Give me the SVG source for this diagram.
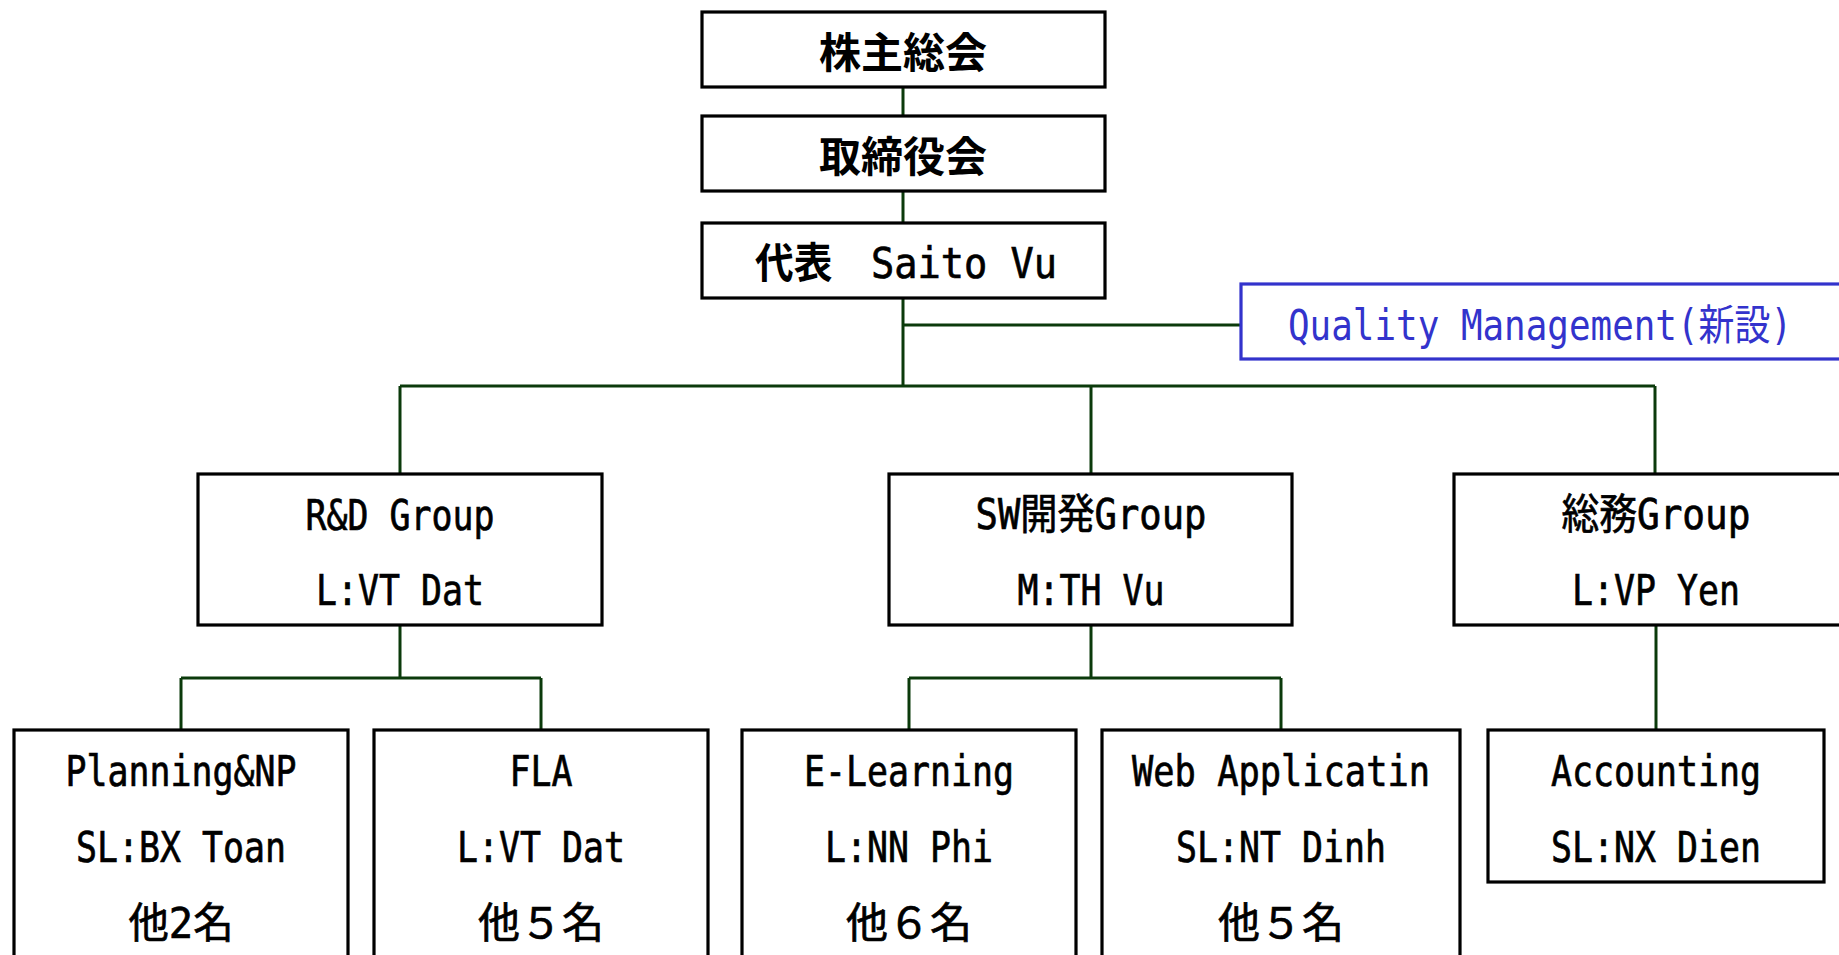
<svg xmlns="http://www.w3.org/2000/svg" width="1839" height="955" viewBox="0 0 1839 955">
<style>
.box{fill:#ffffff;stroke:#000000;stroke-width:3.2}
.qbox{fill:#ffffff;stroke:#3333CC;stroke-width:3.2}
.con{fill:none;stroke:#0B3A0B;stroke-width:3}
.t{font-family:"DejaVu Sans Mono","Noto Sans CJK JP",monospace;font-size:42px;fill:#000000;stroke:#000000;stroke-width:0.7;text-anchor:middle}
.tb{font-family:"Noto Sans CJK JP",sans-serif;font-size:42px;font-weight:bold;fill:#000000;text-anchor:middle}
.tq{font-family:"DejaVu Sans Mono","Noto Sans CJK JP",monospace;font-size:42px;fill:#3333CC}
.cj{font-family:"Noto Sans CJK JP",sans-serif;font-weight:bold;stroke:none}
</style>
<rect width="1839" height="955" fill="#ffffff"/>
<g id="connectors">
<path class="con" d="M903 87V116M903 191V223M903 298V386M903 325H1241M400 386H1655M400 386V474M1091 386V474M1655 386V474"/>
<path class="con" d="M400 625V678M181 678H541M181 678V730M541 678V730"/>
<path class="con" d="M1091 625V678M909 678H1281M909 678V730M1281 678V730"/>
<path class="con" d="M1656 625V730"/>
</g>
<g id="n-shareholders">
<rect class="box" x="702" y="12" width="403" height="75"/>
<text class="tb" x="903" y="68" textLength="168" lengthAdjust="spacingAndGlyphs">株主総会</text>
</g>
<g id="n-board">
<rect class="box" x="702" y="116" width="403" height="75"/>
<text class="tb" x="903" y="172" textLength="168" lengthAdjust="spacingAndGlyphs">取締役会</text>
</g>
<g id="n-ceo">
<rect class="box" x="702" y="223" width="403" height="75"/>
<text class="t" x="906" y="278" textLength="302" lengthAdjust="spacingAndGlyphs"><tspan class="cj">代表　</tspan>Saito Vu</text>
</g>
<g id="n-quality">
<rect class="qbox" x="1241" y="284" width="700" height="75"/>
<text class="tq" x="1288" y="340" textLength="504" lengthAdjust="spacingAndGlyphs">Quality Management(新設)</text>
</g>
<g id="n-rd">
<rect class="box" x="198" y="474" width="404" height="151"/>
<text class="t" x="400" y="530" textLength="189" lengthAdjust="spacingAndGlyphs">R&amp;D Group</text>
<text class="t" x="400" y="605" textLength="168" lengthAdjust="spacingAndGlyphs">L:VT Dat</text>
</g>
<g id="n-sw">
<rect class="box" x="889" y="474" width="403" height="151"/>
<text class="t" x="1091" y="529" textLength="231" lengthAdjust="spacingAndGlyphs">SW開発Group</text>
<text class="t" x="1091" y="605" textLength="147" lengthAdjust="spacingAndGlyphs">M:TH Vu</text>
</g>
<g id="n-ga">
<rect class="box" x="1454" y="474" width="450" height="151"/>
<text class="t" x="1656" y="529" textLength="189" lengthAdjust="spacingAndGlyphs">総務Group</text>
<text class="t" x="1656" y="605" textLength="168" lengthAdjust="spacingAndGlyphs">L:VP Yen</text>
</g>
<g id="n-planning">
<rect class="box" x="14" y="730" width="334" height="300"/>
<text class="t" x="181" y="786" textLength="231" lengthAdjust="spacingAndGlyphs">Planning&amp;NP</text>
<text class="t" x="181" y="862" textLength="210" lengthAdjust="spacingAndGlyphs">SL:BX Toan</text>
<text class="t" x="181" y="938" textLength="105" lengthAdjust="spacingAndGlyphs">他2名</text>
</g>
<g id="n-fla">
<rect class="box" x="374" y="730" width="334" height="300"/>
<text class="t" x="541" y="786" textLength="63" lengthAdjust="spacingAndGlyphs">FLA</text>
<text class="t" x="541" y="862" textLength="168" lengthAdjust="spacingAndGlyphs">L:VT Dat</text>
<text class="t" x="541" y="938" textLength="126" lengthAdjust="spacingAndGlyphs">他５名</text>
</g>
<g id="n-elearning">
<rect class="box" x="742" y="730" width="334" height="300"/>
<text class="t" x="909" y="786" textLength="210" lengthAdjust="spacingAndGlyphs">E-Learning</text>
<text class="t" x="909" y="862" textLength="168" lengthAdjust="spacingAndGlyphs">L:NN Phi</text>
<text class="t" x="909" y="938" textLength="126" lengthAdjust="spacingAndGlyphs">他６名</text>
</g>
<g id="n-web">
<rect class="box" x="1102" y="730" width="358" height="300"/>
<text class="t" x="1281" y="786" textLength="298" lengthAdjust="spacingAndGlyphs">Web Applicatin</text>
<text class="t" x="1281" y="862" textLength="210" lengthAdjust="spacingAndGlyphs">SL:NT Dinh</text>
<text class="t" x="1281" y="938" textLength="126" lengthAdjust="spacingAndGlyphs">他５名</text>
</g>
<g id="n-accounting">
<rect class="box" x="1488" y="730" width="336" height="152"/>
<text class="t" x="1656" y="786" textLength="210" lengthAdjust="spacingAndGlyphs">Accounting</text>
<text class="t" x="1656" y="862" textLength="210" lengthAdjust="spacingAndGlyphs">SL:NX Dien</text>
</g>
</svg>
